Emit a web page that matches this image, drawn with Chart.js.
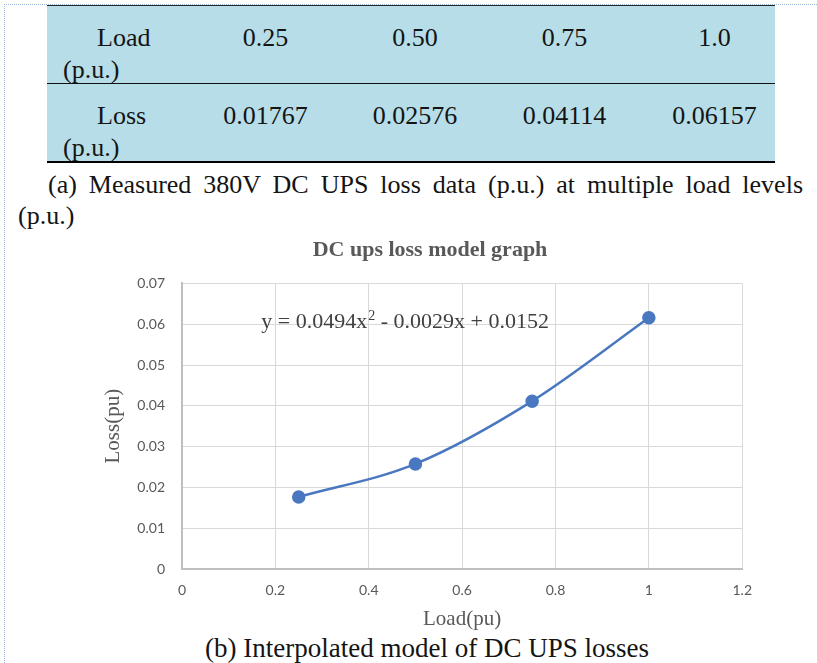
<!DOCTYPE html>
<html>
<head>
<meta charset="utf-8">
<script src="https://cdn.jsdelivr.net/npm/chart.js@4.4.1/dist/chart.umd.min.js"></script>
<style>
	body { margin: 0; width: 817px; height: 663px; overflow: hidden; position: relative; background: #fff; font-family: "Liberation Serif", "Times New Roman", serif; color: #141414; }
	.page-edge { position: absolute; left: 4px; top: 4px; right: 0; bottom: 0; border-left: 1px dotted #9fb9dd; border-top: 1px dotted #9fb9dd; }
	#loss-table { position: absolute; left: 47px; top: 5px; width: 728px; border-collapse: collapse; background: #b7dee8; font-size: 26px; table-layout: fixed; }
	#loss-table tr { height: 78px; }
	#loss-table tr:first-child td { border-top: 1px solid #222; border-bottom: 1px solid #111; }
	#loss-table tr:last-child td { border-bottom: 2px solid #000; }
	#loss-table td { vertical-align: top; padding: 16px 0 0 30px; line-height: 32px; text-align: center; }
	#loss-table td > div { height: 56px; }
	#loss-table td.head { text-align: left; padding-left: 16px; text-indent: 34px; }
	.cap-a { position: absolute; left: 18px; top: 169px; width: 785px; font-size: 26px; line-height: 31px; }
	.cap-a .first { text-align: justify; text-align-last: justify; text-indent: 30px; }
	.cap-b { position: absolute; left: 0; top: 633px; width: 854px; font-size: 27px; line-height: 30px; text-align: center; }
	.chart-box { position: absolute; left: 95px; top: 230px; width: 670px; height: 402px; }
</style>
</head>
<body>
<div class="page-edge"></div>
<table id="loss-table">
	<colgroup><col style="width:129px"><col style="width:149px"><col style="width:150px"><col style="width:149px"><col style="width:151px"></colgroup>
	<tbody></tbody>
</table>
<div class="cap-a">
	<div class="first">(a) Measured 380V DC UPS loss data (p.u.) at multiple load levels</div>
	<div>(p.u.)</div>
</div>
<div class="chart-box"><canvas id="ups-chart"></canvas></div>
<div class="cap-b">(b) Interpolated model of DC UPS losses</div>

<script>
	// measured points
	const loadLabels = ['0.25', '0.50', '0.75', '1.0'];
	const loads = [0.25, 0.5, 0.75, 1.0];
	const losses = [0.01767, 0.02576, 0.04114, 0.06157];
	const lossLabels = ['0.01767', '0.02576', '0.04114', '0.06157'];

	// axis ticks
	const xTicks = [0, 0.2, 0.4, 0.6, 0.8, 1, 1.2];
	const yTicks = [0, 0.01, 0.02, 0.03, 0.04, 0.05, 0.06, 0.07];

	// fitted curve label, split round the superscript
	const fitText = ['y = 0.0494x', '2', ' - 0.0029x + 0.0152'];

	const rows = [
		['Load (p.u.)', loadLabels],
		['Loss (p.u.)', lossLabels],
	];
	const tbody = document.querySelector('#loss-table tbody');
	rows.forEach(([head, vals]) => {
		const tr = document.createElement('tr');
		[head, ...vals].forEach((v, i) => {
			const td = document.createElement('td');
			if (i === 0) td.className = 'head';
			const inner = document.createElement('div');
			inner.textContent = v;
			td.appendChild(inner);
			tr.appendChild(td);
		});
		tbody.appendChild(tr);
	});

	const GREY = '#595959';
	const SERIF = '"Liberation Serif", "Times New Roman", serif';
	const SANS = 'Lato, "Open Sans", sans-serif';

	const fitLabel = {
		id: 'fitLabel',
		afterDatasetsDraw(chart) {
			const { ctx, scales } = chart;
			let x = scales.x.getPixelForValue(0.17);
			const y = scales.y.getPixelForValue(0.0606);
			ctx.save();
			ctx.fillStyle = '#404040';
			ctx.textBaseline = 'middle';
			ctx.textAlign = 'left';
			ctx.font = '22px ' + SERIF;
			ctx.fillText(fitText[0], x, y);
			x += ctx.measureText(fitText[0]).width;
			ctx.font = '14px ' + SERIF;
			ctx.fillText(fitText[1], x + 1, y - 5);
			x += ctx.measureText(fitText[1]).width + 1;
			ctx.font = '22px ' + SERIF;
			ctx.fillText(fitText[2], x, y);
			ctx.restore();
		},
	};

	const fmt = (v) => String(Number(v.toFixed(2)));

	new Chart(document.getElementById('ups-chart'), {
		type: 'line',
		data: {
			datasets: [{
				label: 'Loss',
				data: loads.map((x, i) => ({ x, y: losses[i] })),
				borderColor: '#4a78c0',
				backgroundColor: '#4a78c0',
				pointBackgroundColor: '#4a78c0',
				pointBorderColor: '#4a78c0',
				borderWidth: 2.5,
				pointRadius: 5.5,
				cubicInterpolationMode: 'monotone',
				fill: false,
			}],
		},
		options: {
			responsive: true,
			maintainAspectRatio: false,
			animation: false,
			devicePixelRatio: 1,
			layout: { padding: { left: 6, right: 6, top: 0, bottom: 0 } },
			plugins: {
				legend: { display: false },
				tooltip: { enabled: false },
				title: {
					display: true,
					text: 'DC ups loss model graph',
					color: GREY,
					font: { family: SERIF, size: 22, weight: 'bold' },
					padding: { top: 7, bottom: 20 },
				},
			},
			scales: {
				x: {
					type: 'linear',
					min: 0,
					max: 1.2,
					afterBuildTicks: (s) => { s.ticks = xTicks.map((value) => ({ value })); },
					afterFit: (s) => { s.height = 63; },
					grid: { color: '#d9d9d9', lineWidth: 1, drawTicks: false },
					border: { color: '#bfbfbf', width: 2 },
					ticks: { color: GREY, font: { family: SANS, size: 14 }, padding: 13, callback: (v) => fmt(v), maxRotation: 0 },
					title: { display: true, text: 'Load(pu)', color: GREY, font: { family: SERIF, size: 21 }, padding: { top: 6, bottom: 0 } },
				},
				y: {
					type: 'linear',
					min: 0,
					max: 0.07,
					afterBuildTicks: (s) => { s.ticks = yTicks.map((value) => ({ value })); },
					afterFit: (s) => { s.width = 81; },
					grid: { color: '#d9d9d9', lineWidth: 1, drawTicks: false },
					border: { color: '#bfbfbf', width: 2 },
					ticks: { color: GREY, font: { family: SANS, size: 14 }, padding: 17, callback: (v) => fmt(v) },
					title: { display: true, text: 'Loss(pu)', color: GREY, font: { family: SERIF, size: 21 }, padding: { top: 0, bottom: 0 } },
				},
			},
		},
		plugins: [fitLabel],
	});
</script>
</body>
</html>
